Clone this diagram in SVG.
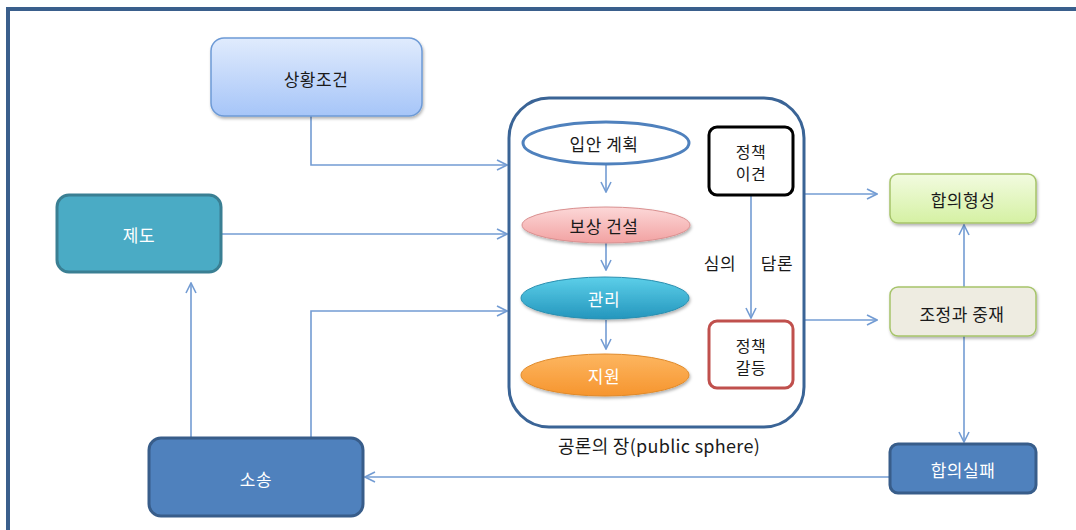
<svg xmlns="http://www.w3.org/2000/svg" width="1076" height="530" viewBox="0 0 1076 530">
<style>
text{font-family:"Noto Sans CJK KR","Noto Sans",sans-serif;font-size:17px;letter-spacing:0.5px;text-anchor:middle;dominant-baseline:central;fill:#1a1a1a}
.w{fill:#fff}
.conn{fill:none;stroke:#739cd3;stroke-width:1.6}
</style>
<defs>
<marker id="ah" viewBox="0 0 12 12" refX="11" refY="6" markerWidth="12" markerHeight="12" markerUnits="userSpaceOnUse" orient="auto">
<path d="M1,1 L11,6 L1,11" fill="none" stroke="#739cd3" stroke-width="1.6"/>
</marker>
<linearGradient id="gBlue" x1="0" y1="0" x2="0" y2="1"><stop offset="0" stop-color="#e0ebfd"/><stop offset="1" stop-color="#a6c5f8"/></linearGradient>
<linearGradient id="gGreen" x1="0" y1="0" x2="0" y2="1"><stop offset="0" stop-color="#f2fbe0"/><stop offset="1" stop-color="#d5f1a3"/></linearGradient>
<linearGradient id="gPink" x1="0" y1="0" x2="0" y2="1"><stop offset="0" stop-color="#fcd8d8"/><stop offset="1" stop-color="#f2a2a2"/></linearGradient>
<linearGradient id="gTeal" x1="0" y1="0" x2="0" y2="1"><stop offset="0" stop-color="#5ccfe9"/><stop offset="1" stop-color="#2496bd"/></linearGradient>
<linearGradient id="gOrange" x1="0" y1="0" x2="0" y2="1"><stop offset="0" stop-color="#fdb661"/><stop offset="1" stop-color="#f6952e"/></linearGradient>
<filter id="sh" x="-10%" y="-10%" width="130%" height="140%"><feDropShadow dx="1" dy="2" stdDeviation="1.5" flood-color="#000" flood-opacity="0.3"/></filter>
</defs>
<rect width="1076" height="530" fill="#fff"/>
<path d="M8,530 V9 H1076" fill="none" stroke="#3a5f8c" stroke-width="4"/>

<g id="connectors">
<path class="conn" d="M311,116 V165 H507" marker-end="url(#ah)"/>
<path class="conn" d="M221,234 H507" marker-end="url(#ah)"/>
<path class="conn" d="M311,437 V311 H507" marker-end="url(#ah)"/>
<path class="conn" d="M191,437 V283" marker-end="url(#ah)"/>
<path class="conn" d="M889,477 H365" marker-end="url(#ah)"/>
<path class="conn" d="M606,165 V192" marker-end="url(#ah)"/>
<path class="conn" d="M606,243 V270" marker-end="url(#ah)"/>
<path class="conn" d="M606,320 V349" marker-end="url(#ah)"/>
<path class="conn" d="M751,195 V318" marker-end="url(#ah)"/>
<path class="conn" d="M805,194 H877" marker-end="url(#ah)"/>
<path class="conn" d="M805,320 H877" marker-end="url(#ah)"/>
<path class="conn" d="M964,287 V225" marker-end="url(#ah)"/>
<path class="conn" d="M964,336 V442" marker-end="url(#ah)"/>
</g>

<g id="sanghwang">
<rect x="211" y="38" width="211" height="78" rx="13" fill="url(#gBlue)" stroke="#6d9ad6" stroke-width="1.5" filter="url(#sh)"/>
<text x="316" y="78">상황조건</text>
</g>
<g id="jedo">
<rect x="57" y="195" width="164" height="77" rx="12" fill="#4aabc5" stroke="#3a7f93" stroke-width="3"/>
<text class="w" x="139" y="234">제도</text>
</g>
<g id="sosong">
<rect x="149" y="438" width="214" height="78" rx="12" fill="#4f81bd" stroke="#385d8a" stroke-width="3"/>
<text class="w" x="256" y="478">소송</text>
</g>

<g id="public-sphere">
<rect x="509" y="98" width="295" height="329" rx="40" fill="none" stroke="#3a6496" stroke-width="3"/>
<text x="659" y="445" style="font-size:18px;letter-spacing:0.3px">공론의 장(public sphere)</text>
</g>
<g id="ipan">
<ellipse cx="606" cy="143" rx="83" ry="21" fill="#fff" stroke="#4f81bd" stroke-width="3"/>
<text x="604" y="143">입안 계획</text>
</g>
<g id="bosang">
<ellipse cx="606" cy="225" rx="84" ry="18" fill="url(#gPink)" stroke="#d99090" stroke-width="1" filter="url(#sh)"/>
<text x="604" y="225">보상 건설</text>
</g>
<g id="gwanri">
<ellipse cx="605" cy="298" rx="84" ry="21" fill="url(#gTeal)" stroke="#2a8fb0" stroke-width="1" filter="url(#sh)"/>
<text class="w" x="604" y="298">관리</text>
</g>
<g id="jiwon">
<ellipse cx="605" cy="375" rx="84" ry="21" fill="url(#gOrange)" stroke="#e08a2a" stroke-width="1" filter="url(#sh)"/>
<text class="w" x="604" y="375">지원</text>
</g>
<g id="iguen">
<rect x="709" y="127" width="84" height="68" rx="8" fill="#fff" stroke="#000" stroke-width="3"/>
<text x="751" y="151" style="font-size:16px"><tspan x="751" y="151">정책</tspan><tspan x="751" y="173">이견</tspan></text>
</g>
<g id="galdeung">
<rect x="709" y="321" width="84" height="67" rx="8" fill="#fff" stroke="#c0504d" stroke-width="3"/>
<text x="751" y="345" style="font-size:16px"><tspan x="751" y="345">정책</tspan><tspan x="751" y="367">갈등</tspan></text>
</g>
<g id="labels">
<text x="720" y="262">심의</text>
<text x="777" y="262">담론</text>
</g>

<g id="hapui">
<rect x="890" y="174" width="146" height="49" rx="8" fill="url(#gGreen)" stroke="#a6c46a" stroke-width="1.5" filter="url(#sh)"/>
<text x="963" y="199">합의형성</text>
</g>
<g id="jojeong">
<rect x="890" y="287" width="146" height="49" rx="8" fill="#eeece1" stroke="#a6c46a" stroke-width="1.5" filter="url(#sh)"/>
<text x="962" y="313">조정과 중재</text>
</g>
<g id="silpae">
<rect x="890" y="444" width="146" height="49" rx="8" fill="#4f81bd" stroke="#385d8a" stroke-width="3"/>
<text class="w" x="963" y="469">합의실패</text>
</g>
</svg>
